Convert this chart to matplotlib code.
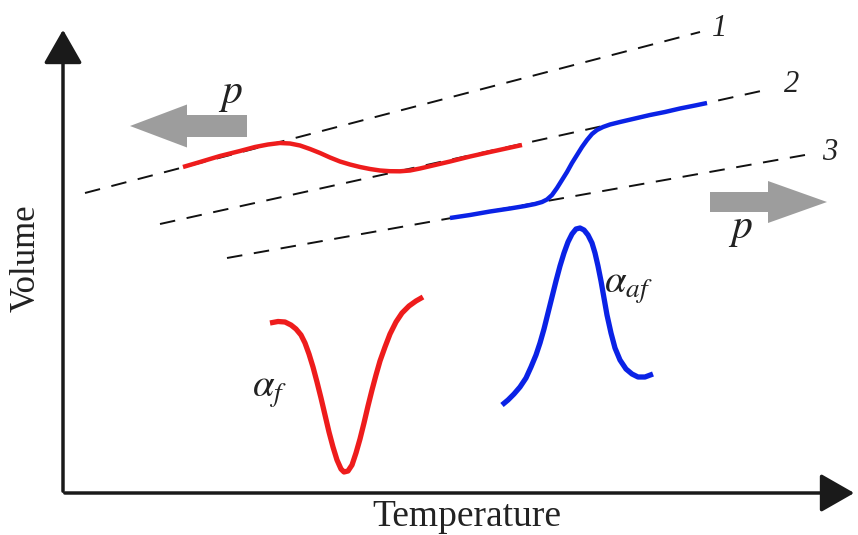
import matplotlib.pyplot as plt
from matplotlib.patches import FancyArrow

plt.rcParams["font.family"] = ["Liberation Serif", "DejaVu Serif"]
plt.rcParams["mathtext.fontset"] = "stix"

W, H = 858, 535

# dashed reference lines (pixel coords of the sketch): start, end
dash_lines = {
    "1": [(85, 193), (700, 32)],
    "2": [(160, 224), (770, 89)],
    "3": [(227, 258), (805, 155)],
}
dash_labels = {"1": (720, 28), "2": (792, 84), "3": (830, 153)}

# red volume curve (goes from line 1 down to line 2)
red_vol_x = [183, 200, 220, 240, 255, 268, 280, 290, 300, 310, 320, 330, 340, 350, 360,
             370, 380, 390, 400, 410, 420, 435, 450, 470, 490, 506, 522]
red_vol_y = [167, 162, 156, 151, 147, 144.5, 143, 143.5, 145.5, 149, 153, 157.5, 161.5, 164.5, 167,
             169, 170.5, 171.2, 171.3, 170.5, 168.5, 165, 161.5, 156.5, 152, 148.5, 145]

# blue volume curve (goes from line 3 up to line 2)
blue_vol_x = [450, 470, 490, 510, 525, 535, 542, 547, 552, 557, 562, 567, 572, 577, 582,
              587, 592, 597, 603, 610, 620, 635, 650, 665, 680, 695, 707]
blue_vol_y = [218, 215, 211.5, 208.5, 206, 204, 202, 199.5, 195, 188, 180, 172, 163, 155, 147,
              140, 134, 130, 127, 124.5, 122, 118.5, 115, 112, 108.5, 105.5, 103]

# expansion coefficient curves
red_alpha_x = [270, 278, 285, 291, 296, 301, 305, 309, 313, 317, 321, 325, 329, 333, 337, 341, 344,
               348, 352, 356, 360, 364, 368, 372, 376, 380, 385, 390, 396, 402, 409, 416, 423]
red_alpha_y = [323, 321.5, 322, 325, 329, 335, 343, 354, 367, 382, 398, 415, 432, 447, 460, 469, 472,
               471, 465, 453, 439, 423, 406, 390, 375, 361, 347, 334, 322, 313, 306, 301, 297]

blue_alpha_x = [502, 508, 514, 520, 526, 531, 536, 540, 544, 548, 552, 556, 560, 564, 568, 572, 576,
                580, 584, 588, 592, 595, 598, 601, 604, 607, 611, 615, 620, 626, 632, 638, 645, 653]
blue_alpha_y = [405, 400, 394, 387, 378, 367, 355, 343, 329, 313, 297, 281, 266, 253, 242, 234, 229,
                228, 230, 235, 243, 253, 266, 281, 298, 315, 333, 348, 360, 369, 374, 377, 377, 374]

RED = "#ee1c1c"
BLUE = "#0a22e6"
GRAY = "#9d9d9d"

fig = plt.figure(figsize=(W / 100, H / 100), dpi=100)
ax = fig.add_axes([0, 0, 1, 1])
ax.set_xlim(0, W)
ax.set_ylim(H, 0)
ax.axis("off")

# axes with arrow heads
head = "-|>,head_length=0.7,head_width=0.4"
ax.annotate("", xy=(63, 27), xytext=(63, 494),
            arrowprops=dict(arrowstyle=head, lw=2.5, color="#1a1a1a", mutation_scale=30))
ax.annotate("", xy=(857, 493), xytext=(62, 493),
            arrowprops=dict(arrowstyle=head, lw=2.5, color="#1a1a1a", mutation_scale=30))

for key, ((x0, y0), (x1, y1)) in dash_lines.items():
    ax.plot([x0, x1], [y0, y1], color="#111111", lw=1.4, dashes=(8, 6), zorder=2)
    lx, ly = dash_labels[key]
    ax.text(lx, ly, key, fontsize=22, style="italic", color="#222222",
            ha="center", va="center")

curve_kw = dict(solid_capstyle="butt", solid_joinstyle="round", zorder=3)
ax.plot(red_vol_x, red_vol_y, color=RED, lw=3.2, **curve_kw)
ax.plot(blue_vol_x, blue_vol_y, color=BLUE, lw=3.2, **curve_kw)
ax.plot(red_alpha_x, red_alpha_y, color=RED, lw=3.8, **curve_kw)
ax.plot(blue_alpha_x, blue_alpha_y, color=BLUE, lw=3.8, **curve_kw)

# pressure arrows
ax.add_patch(FancyArrow(247, 126, -117, 0, width=22, head_width=43, head_length=57,
                        length_includes_head=True, color=GRAY, lw=0))
ax.add_patch(FancyArrow(710, 202, 117, 0, width=20, head_width=42, head_length=59,
                        length_includes_head=True, color=GRAY, lw=0))
ax.text(230, 95, "$p$", fontsize=30, color="#222222", ha="center", va="center")
ax.text(740, 230, "$p$", fontsize=30, color="#222222", ha="center", va="center")

ax.text(270, 392, r"$\alpha_f$", fontsize=28, color="#222222", ha="center", va="center")
ax.text(628, 288, r"$\alpha_{af}$", fontsize=28, color="#222222", ha="center", va="center")

ax.text(26, 258, "Volume", fontsize=25, rotation=90, color="#222222", ha="center", va="center")
ax.text(467, 517, "Temperature", fontsize=27, color="#222222", ha="center", va="center")

fig.savefig("out.png", dpi=100)
